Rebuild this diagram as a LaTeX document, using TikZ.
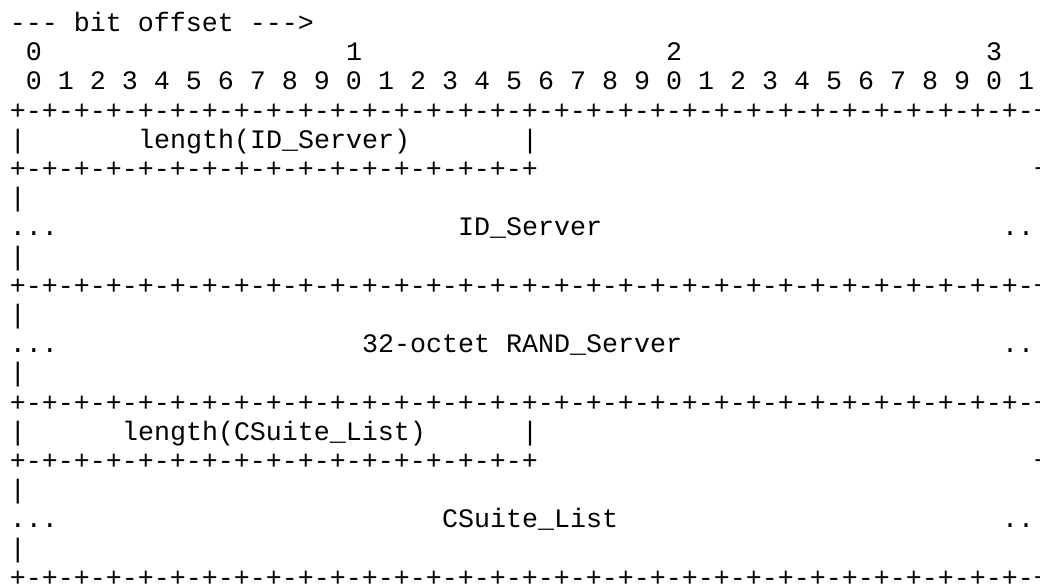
\documentclass[tikz,border=0pt]{standalone}
\usepackage{fontspec}
\setmonofont{Liberation Mono}
\tikzset{
  txt/.style={font=\ttfamily\fontsize{20pt}{22pt}\selectfont, anchor=base west, inner sep=0pt, outer sep=0pt, text=black}
}
\newcommand{\fullsep}{+-+-+-+-+-+-+-+-+-+-+-+-+-+-+-+-+-+-+-+-+-+-+-+-+-+-+-+-+-+-+-+-+}
\newcommand{\halfsep}{+-+-+-+-+-+-+-+-+-+-+-+-+-+-+-+-+}
% \cell{name}{column}{row}{text}
\newcommand{\cell}[4]{\node[txt] (#1) at ({10+16*#2},{31.6+29.2*#3}) {#4};}
\begin{document}
\begin{tikzpicture}[x=0.75pt,y=-0.75pt]
\useasboundingbox (0,0) rectangle (1040,584);
\fill[white] (0,0) rectangle (1040,584);
\clip (0,0) rectangle (1040,584);
% header
\cell{title}{0}{0}{-{}-{}- bit offset -{}-{}->}
\cell{t0}{1}{1}{0}
\cell{t1}{21}{1}{1}
\cell{t2}{41}{1}{2}
\cell{t3}{61}{1}{3}
\cell{bits}{1}{2}{0 1 2 3 4 5 6 7 8 9 0 1 2 3 4 5 6 7 8 9 0 1 2 3 4 5 6 7 8 9 0 1}
\cell{s3}{0}{3}{\fullsep}
% length(ID_Server)
\cell{l4}{0}{4}{|}
\cell{lenid}{8}{4}{length(ID\_Server)}
\cell{m4}{32}{4}{|}
\cell{r4}{64}{4}{|}
\cell{s5}{0}{5}{\halfsep}
\cell{e5}{64}{5}{+}
% ID_Server
\cell{l6}{0}{6}{|}
\cell{r6}{64}{6}{|}
\cell{d7}{0}{7}{...}
\cell{idserver}{28}{7}{ID\_Server}
\cell{e7}{62}{7}{...}
\cell{l8}{0}{8}{|}
\cell{r8}{64}{8}{|}
\cell{s9}{0}{9}{\fullsep}
% RAND_Server
\cell{l10}{0}{10}{|}
\cell{r10}{64}{10}{|}
\cell{d11}{0}{11}{...}
\cell{rand}{22}{11}{32-octet RAND\_Server}
\cell{e11}{62}{11}{...}
\cell{l12}{0}{12}{|}
\cell{r12}{64}{12}{|}
\cell{s13}{0}{13}{\fullsep}
% length(CSuite_List)
\cell{l14}{0}{14}{|}
\cell{lencs}{7}{14}{length(CSuite\_List)}
\cell{m14}{32}{14}{|}
\cell{r14}{64}{14}{|}
\cell{s15}{0}{15}{\halfsep}
\cell{e15}{64}{15}{+}
% CSuite_List
\cell{l16}{0}{16}{|}
\cell{r16}{64}{16}{|}
\cell{d17}{0}{17}{...}
\cell{cslist}{27}{17}{CSuite\_List}
\cell{e17}{62}{17}{...}
\cell{l18}{0}{18}{|}
\cell{r18}{64}{18}{|}
\cell{s19}{0}{19}{\fullsep}
\end{tikzpicture}
\end{document}
